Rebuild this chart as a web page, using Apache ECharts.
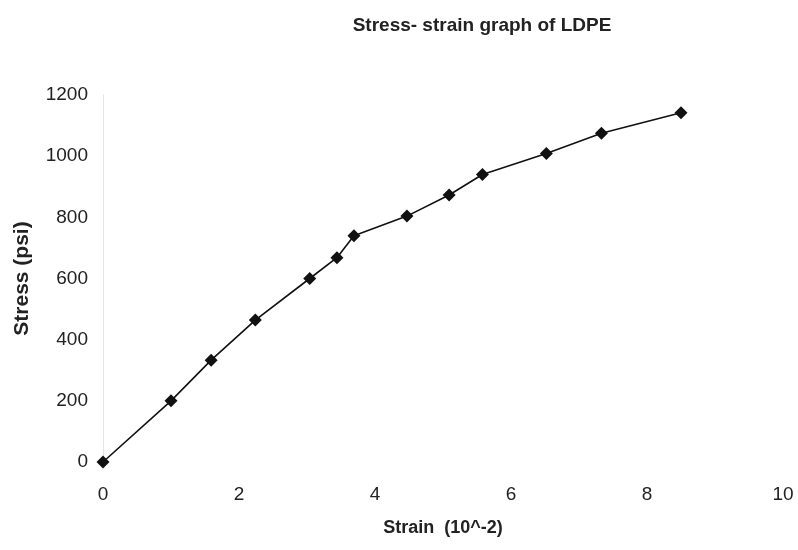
<!DOCTYPE html>
<html>
<head>
<meta charset="utf-8">
<script src="https://cdn.jsdelivr.net/npm/echarts@6/dist/echarts.min.js"></script>
<style>
html,body{margin:0;padding:0;background:#fff;}
#chart{width:798px;height:550px;}
</style>
</head>
<body>
<div id="chart"></div>
<script>
const strain = [0, 1.0, 1.59, 2.24, 3.04, 3.44, 3.69, 4.47, 5.09, 5.58, 6.52, 7.33, 8.5];
const stress = [0, 200, 333, 464, 600, 668, 740, 804, 873, 940, 1009, 1075, 1142];
const xTicks = [0, 2, 4, 6, 8, 10];
const yTicks = [0, 200, 400, 600, 800, 1000, 1200];

const points = strain.map((s, i) => [s, stress[i]]);
const chart = echarts.init(document.getElementById('chart'));
chart.setOption({
  backgroundColor: '#ffffff',
  animation: false,
  title: {
    text: 'Stress- strain graph of LDPE',
    left: 477, top: 11, textAlign: 'center',
    textStyle: {fontFamily: 'Liberation Sans', fontSize: 19, fontWeight: 'bold', color: '#222'}
  },
  grid: {left: 103, right: 15, top: 95, bottom: 88, containLabel: false},
  xAxis: {
    type: 'value', min: xTicks[0], max: xTicks[xTicks.length - 1], interval: 2,
    name: 'Strain  (10^-2)', nameLocation: 'middle', nameGap: 57,
    nameTextStyle: {fontFamily: 'Liberation Sans', fontSize: 18, fontWeight: 'bold', color: '#222'},
    axisLine: {show: false}, axisTick: {show: false}, splitLine: {show: false},
    axisLabel: {fontFamily: 'Liberation Sans', fontSize: 19, color: '#222', margin: 23,
      formatter: v => String(v)}
  },
  yAxis: {
    type: 'value', min: yTicks[0], max: yTicks[yTicks.length - 1], interval: 200,
    name: 'Stress (psi)', nameLocation: 'middle', nameGap: 70,
    nameTextStyle: {fontFamily: 'Liberation Sans', fontSize: 21, fontWeight: 'bold', color: '#222'},
    axisLine: {show: true, lineStyle: {color: '#e4e4e4', width: 1}}, axisTick: {show: false}, splitLine: {show: false},
    axisLabel: {fontFamily: 'Liberation Sans', fontSize: 19, color: '#222', margin: 15,
      formatter: v => String(v)}
  },
  series: [{
    type: 'line',
    data: points,
    symbol: 'diamond', symbolSize: 13,
    lineStyle: {color: '#111', width: 1.6},
    itemStyle: {color: '#111'}
  }]
});
</script>
</body>
</html>
